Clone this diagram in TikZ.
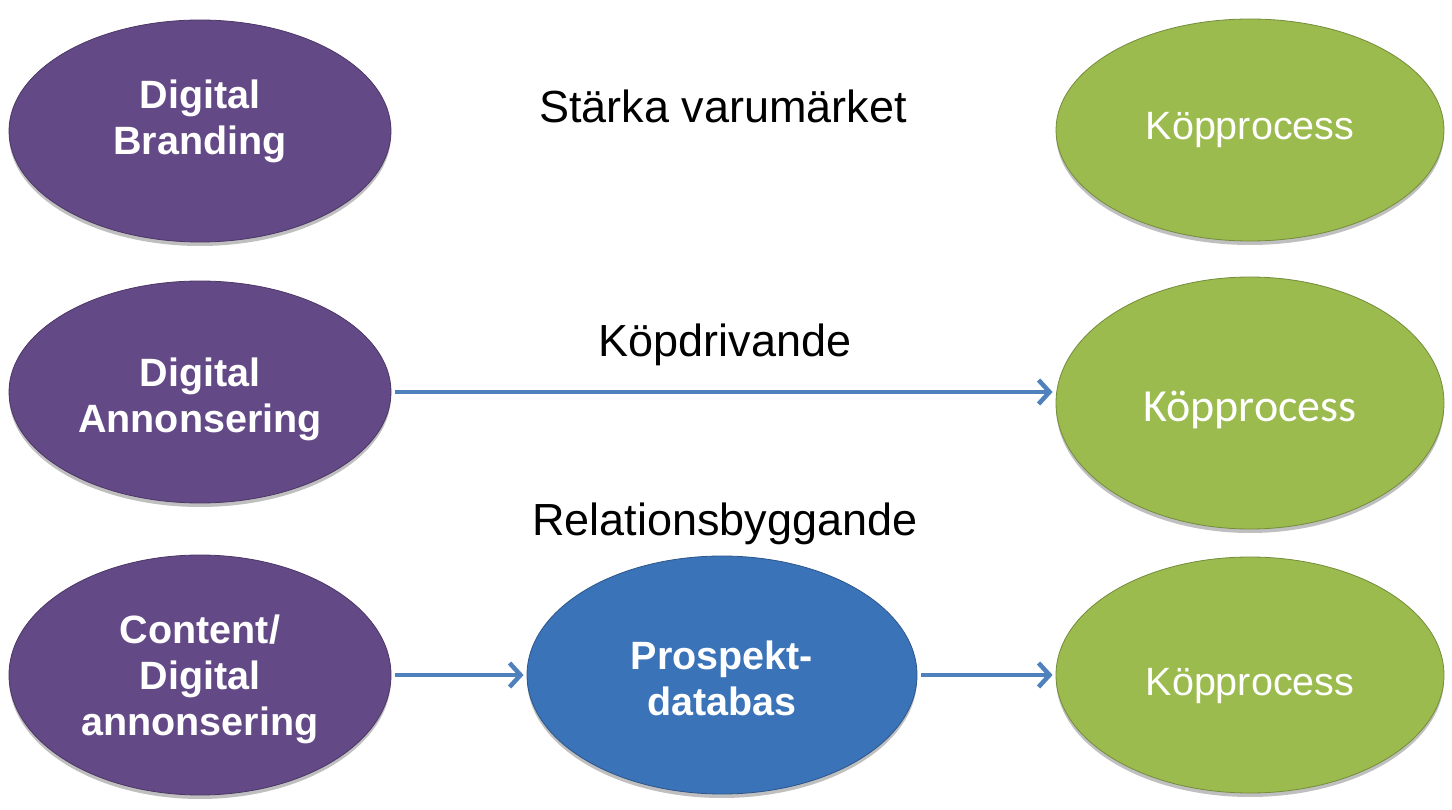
\documentclass[tikz,border=0pt]{standalone}
\usepackage{fontspec}
\setmainfont{Liberation Sans}
\newfontfamily\calibri{Carlito}
\usetikzlibrary{shapes.geometric,arrows.meta,shadows}

\definecolor{bubpurple}{HTML}{644987}
\definecolor{bubgreen}{HTML}{9BBB4F}
\definecolor{bubblue}{HTML}{3B73B8}
\definecolor{flowblue}{HTML}{4F81BD}

\begin{document}
\begin{tikzpicture}[x=1pt, y=-1pt,
    bub/.style={ellipse, draw=#1!75!black, line width=0.8pt, fill=#1, text=white, align=center, inner sep=0pt,
        drop shadow={shadow xshift=0pt, shadow yshift=-4pt, opacity=0.25, fill=black}},
    purp/.style={bub=bubpurple, minimum width=382pt, minimum height=222pt, font=\fontsize{39.5}{46}\selectfont\bfseries},
    gren/.style={bub=bubgreen, minimum width=388pt, minimum height=222pt, font=\fontsize{39.5}{46}\selectfont},
    blu/.style={bub=bubblue, minimum width=390pt, minimum height=238pt, font=\fontsize{39.5}{46}\selectfont\bfseries},
    txtbase/.style={text height=#1, text depth=0pt},
    lbl/.style={font=\fontsize{45}{54}\selectfont, text=black},
    flow/.style={-{Straight Barb[length=11pt, width=24pt]}, line width=4.5pt, flowblue, shorten <=4pt, shorten >=3pt}
]
\useasboundingbox (0,0) rectangle (1452,810);

% left column
\node[purp, txtbase=48pt] (brand) at (200,131) {Digital\\Branding};
\node[purp, txtbase=80pt] (annons) at (200,392) {Digital\\Annonsering};
\node[purp, txtbase=120pt, minimum height=240pt] (content) at (200,675) {Content/\\Digital\\annonsering};

% middle
\node[blu, txtbase=80pt] (prospekt) at (722,675) {Prospekt-\\databas};
\node[lbl] (starka) at (723,106) {Stärka varumärket};
\node[lbl] (drivande) at (725,345) {Köpdrivande};
\node[lbl] (relation) at (725,524) {Relationsbyggande};

% right column
\node[gren] (kop1) at (1250,130) {Köpprocess};
\node[gren, txtbase=36pt, minimum height=252pt, font=\calibri\fontsize{46}{54}\selectfont] (kop2) at (1250,403) {Köpprocess};
\node[gren, txtbase=40pt, minimum height=236pt] (kop3) at (1250,675) {Köpprocess};

\draw[flow] (annons.east) -- (annons.east -| kop2.west);
\draw[flow] (content.east) -- (prospekt.west);
\draw[flow] (prospekt.east) -- (kop3.west);
\end{tikzpicture}
\end{document}
